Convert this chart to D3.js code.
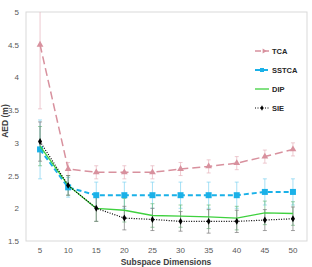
<!DOCTYPE html>
<html><head><meta charset="utf-8">
<script src="https://cdn.jsdelivr.net/npm/d3@7"></script>
<style>body{margin:0;background:#fff}svg{display:block}text{font-family:"Liberation Sans",Arial,sans-serif}</style>
</head><body><svg id="c" width="312" height="267"></svg>
<script>
const dims = ["5","10","15","20","25","30","35","40","45","50"];
const yTicks = [1.5,2,2.5,3,3.5,4,4.5,5];
const seriesNames = ["TCA","SSTCA","DIP","SIE"];
const tca   = [4.5,2.6,2.55,2.55,2.55,2.6,2.64,2.69,2.79,2.9];
const tcaErr= [0.98,0.1,0.1,0.1,0.1,0.1,0.1,0.1,0.1,0.1];
const sstca = [2.9,2.32,2.2,2.2,2.2,2.2,2.2,2.2,2.25,2.25];
const sstcaErr=[0.45,0.15,0.2,0.2,0.2,0.2,0.2,0.2,0.2,0.2];
const dip   = [2.95,2.35,2.0,1.97,1.89,1.88,1.87,1.85,1.93,1.92];
const dipErr= [0.3,0.15,0.2,0.18,0.18,0.17,0.18,0.18,0.18,0.18];
const sie   = [3.02,2.35,2.0,1.85,1.83,1.8,1.8,1.8,1.82,1.84];
const sieErr= [0.3,0.15,0.2,0.18,0.17,0.15,0.18,0.17,0.16,0.18];

const svg = d3.select("#c");
const L=26,R=307,T=12,B=241;
const x = d3.scaleBand().domain(dims).range([L,R]);
const cx = d => x(d)+x.bandwidth()/2;
const y = d3.scaleLinear().domain([1.5,5]).range([B,T]);

svg.append("defs").append("clipPath").attr("id","clip")
  .append("rect").attr("x",L).attr("y",T).attr("width",R-L).attr("height",B-T);

svg.append("rect").attr("x",L).attr("y",T).attr("width",R-L).attr("height",B-T)
  .attr("fill","none").attr("stroke","#d9d9d9").attr("stroke-width",1);

const ya = svg.append("g").attr("transform",`translate(${L},0)`)
  .call(d3.axisLeft(y).tickValues(yTicks).tickSize(0).tickPadding(7).tickFormat(d3.format("")));
ya.select(".domain").remove();
ya.selectAll("text").attr("font-size",8).attr("fill","#595959");
const xa = svg.append("g").attr("transform",`translate(0,${B})`)
  .call(d3.axisBottom(x).tickSize(0).tickPadding(6));
xa.select(".domain").remove();
xa.selectAll("text").attr("font-size",8).attr("fill","#595959");

svg.append("text").attr("x",166).attr("y",265).attr("text-anchor","middle")
  .attr("font-size",8.5).attr("font-weight","bold").attr("fill","#404040").text("Subspace Dimensions");
svg.append("text").attr("transform","translate(8,121) rotate(-90)").attr("text-anchor","middle")
  .attr("font-size",8.5).attr("font-weight","bold").attr("fill","#404040").text("AED (m)");

const series = [
  {name:"TCA", v:tca, e:tcaErr, color:"#d8919e", ecolor:"#e6b3bc", w:1.5, dash:"8,4", marker:"triangle", ms:20},
  {name:"SSTCA", v:sstca, e:sstcaErr, color:"#1ab1e8", ecolor:"#7fd2f0", w:2, dash:"5,3", marker:"square", ms:36},
  {name:"DIP", v:dip, e:dipErr, color:"#3fd13f", ecolor:"#6cbf80", w:1.3, dash:null, marker:null, ms:0},
  {name:"SIE", v:sie, e:sieErr, color:"#000000", ecolor:"#7a7a7a", w:1.2, dash:"1,1.5", marker:"diamond", ms:14}
];
const symMap = {triangle:d3.symbolTriangle, square:d3.symbolSquare, diamond:d3.symbolDiamond};

const g = svg.append("g").attr("clip-path","url(#clip)");
series.forEach(s=>{
  const eg = g.append("g");
  dims.forEach((d,i)=>{
    const xx=cx(d), y1=y(s.v[i]+s.e[i]), y2=y(s.v[i]-s.e[i]);
    eg.append("line").attr("x1",xx).attr("x2",xx).attr("y1",y1).attr("y2",y2)
      .attr("stroke",s.ecolor).attr("stroke-width",0.7);
    [y1,y2].forEach(yy=>eg.append("line").attr("x1",xx-2).attr("x2",xx+2).attr("y1",yy).attr("y2",yy)
      .attr("stroke",s.ecolor).attr("stroke-width",0.7));
  });
});
series.forEach(s=>{
  const line = d3.line().x((v,i)=>cx(dims[i])).y(v=>y(v));
  g.append("path").attr("d",line(s.v)).attr("fill","none").attr("stroke",s.color)
    .attr("stroke-width",s.w).attr("stroke-dasharray",s.dash);
  if(s.marker){
    g.selectAll(null).data(s.v).enter().append("path")
      .attr("d",d3.symbol(symMap[s.marker],s.ms))
      .attr("transform",(v,i)=>`translate(${cx(dims[i])},${y(v)})`)
      .attr("fill",s.color);
  }
});

const ly=[51,70,89,108];
const legMs=[10,16,0,8];
series.forEach((s,i)=>{
  const lg = svg.append("g").attr("transform",`translate(0,${ly[i]})`);
  lg.append("line").attr("x1",255).attr("x2",269).attr("y1",0).attr("y2",0)
    .attr("stroke",s.color).attr("stroke-width",s.w).attr("stroke-dasharray",s.name==="TCA"?"6,2":s.dash);
  if(s.marker) lg.append("path").attr("d",d3.symbol(symMap[s.marker],legMs[i]))
    .attr("transform",s.name==="TCA"?"translate(264,0) rotate(90)":"translate(262,0)").attr("fill",s.color);
  lg.append("text").attr("x",272).attr("y",3).attr("font-size",7.5).attr("font-weight","bold")
    .attr("fill","#262626").text(seriesNames[i]);
});
</script></body></html>
